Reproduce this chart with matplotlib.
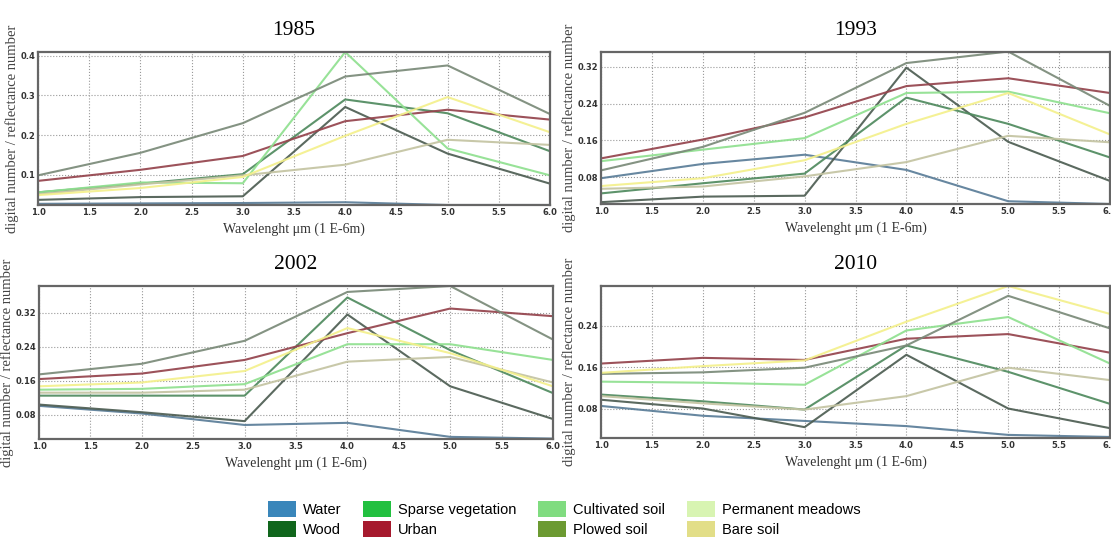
import matplotlib.pyplot as plt
from matplotlib.patches import Patch

wavelength = [1, 2, 3, 4, 5, 6]

classes = ['Water', 'Wood', 'Sparse vegetation', 'Urban', 'Cultivated soil',
           'Plowed soil', 'Permanent meadows', 'Bare soil']

# colours of the lines inside the plots (muted)
line_colors = ['#5a7d98', '#4d5d52', '#4f8a5e', '#94434c', '#8fe08f',
               '#7a8a78', '#c4c4a2', '#f4f08c']
# colours of the legend patches
legend_colors = ['#3a86ba', '#10661c', '#22c040', '#a61a2e', '#80dc80',
                 '#6c9a32', '#d8f4b2', '#e2de88']

# values, one list per class, order as in `classes`
val_1985 = [
    [0.026, 0.027, 0.028, 0.030, 0.023, 0.023],
    [0.036, 0.043, 0.045, 0.271, 0.153, 0.077],
    [0.055, 0.077, 0.101, 0.290, 0.255, 0.159],
    [0.084, 0.112, 0.147, 0.235, 0.264, 0.239],
    [0.055, 0.080, 0.078, 0.410, 0.166, 0.098],
    [0.098, 0.155, 0.230, 0.348, 0.376, 0.253],
    [0.050, 0.075, 0.098, 0.125, 0.188, 0.175],
    [0.048, 0.066, 0.094, 0.198, 0.296, 0.207],
]
val_1993 = [
    [0.078, 0.109, 0.129, 0.096, 0.028, 0.022],
    [0.026, 0.038, 0.040, 0.318, 0.157, 0.072],
    [0.045, 0.067, 0.088, 0.253, 0.196, 0.123],
    [0.121, 0.162, 0.210, 0.278, 0.295, 0.263],
    [0.115, 0.140, 0.165, 0.263, 0.266, 0.219],
    [0.095, 0.146, 0.220, 0.328, 0.353, 0.235],
    [0.055, 0.060, 0.082, 0.113, 0.170, 0.156],
    [0.061, 0.078, 0.117, 0.196, 0.263, 0.173],
]
val_2002 = [
    [0.101, 0.083, 0.056, 0.061, 0.028, 0.024],
    [0.104, 0.086, 0.065, 0.316, 0.147, 0.070],
    [0.125, 0.125, 0.125, 0.356, 0.232, 0.131],
    [0.164, 0.177, 0.209, 0.272, 0.330, 0.312],
    [0.139, 0.141, 0.152, 0.246, 0.246, 0.209],
    [0.175, 0.200, 0.254, 0.369, 0.383, 0.257],
    [0.132, 0.132, 0.139, 0.205, 0.216, 0.156],
    [0.147, 0.156, 0.183, 0.284, 0.225, 0.147],
]
val_2010 = [
    [0.085, 0.066, 0.056, 0.046, 0.029, 0.025],
    [0.097, 0.080, 0.044, 0.184, 0.080, 0.042],
    [0.107, 0.094, 0.078, 0.202, 0.151, 0.089],
    [0.167, 0.178, 0.174, 0.215, 0.224, 0.188],
    [0.132, 0.130, 0.126, 0.231, 0.257, 0.167],
    [0.147, 0.150, 0.159, 0.202, 0.298, 0.235],
    [0.104, 0.090, 0.078, 0.104, 0.159, 0.135],
    [0.149, 0.162, 0.173, 0.248, 0.317, 0.263],
]

years = ['1985', '1993', '2002', '2010']
values = [val_1985, val_1993, val_2002, val_2010]
y_ticks = [[0.1, 0.2, 0.3, 0.4], [0.08, 0.16, 0.24, 0.32],
           [0.08, 0.16, 0.24, 0.32], [0.08, 0.16, 0.24]]
y_limits = [(0.023, 0.41), (0.022, 0.352), (0.023, 0.383), (0.023, 0.317)]
x_ticks = [1.0, 1.5, 2.0, 2.5, 3.0, 3.5, 4.0, 4.5, 5.0, 5.5, 6.0]

W, H = 1111, 540
# axes boxes in pixels: left, top, right, bottom
boxes = [(38, 52, 550, 205), (601, 52, 1110, 204),
         (39, 286, 553, 439), (601, 286, 1110, 438)]

fig = plt.figure(figsize=(W / 100, H / 100), dpi=100)

for year, vals, yt, yl, (l, t, r, b) in zip(years, values, y_ticks, y_limits, boxes):
    ax = fig.add_axes([l / W, 1 - b / H, (r - l) / W, (b - t) / H])
    for v, c in zip(vals, line_colors):
        ax.plot(wavelength, v, color=c, lw=1.5, alpha=0.92)
    ax.set_xlim(1, 6)
    ax.set_ylim(*yl)
    ax.set_xticks(x_ticks)
    ax.set_xticklabels([f'{x:.1f}' for x in x_ticks])
    ax.set_yticks(yt)
    ax.set_yticklabels([f'{y:g}' for y in yt])
    ax.tick_params(length=0, pad=2, labelsize=6)
    for lab in ax.get_xticklabels() + ax.get_yticklabels():
        lab.set_fontweight('bold')
        lab.set_family('DejaVu Sans')
        lab.set_color('#333333')
    ax.grid(True, color='#999999', linestyle=':', lw=0.8)
    for s in ax.spines.values():
        s.set_color('#666666')
        s.set_linewidth(1.6)
    ax.set_title(year, family='Liberation Serif', fontsize=15.5, pad=12)
    ax.set_xlabel('Wavelenght \u03bcm (1 E-6m)', family='Liberation Serif',
                  fontsize=10, labelpad=4, color='#333333')
    ax.set_ylabel('digital number / reflectance number', family='Liberation Serif',
                  fontsize=10.5, labelpad=1, color='#444444')

handles = [Patch(facecolor=c, edgecolor='none') for c in legend_colors]
fig.legend(handles, classes, ncol=4, loc='center', bbox_to_anchor=(0.508, 1 - 519 / H),
           frameon=False, prop={'family': 'Liberation Sans', 'size': 10.5},
           handlelength=1.9, handleheight=1.25, columnspacing=1.5,
           labelspacing=0.3, handletextpad=0.5)

fig.savefig('out.png', dpi=100)
